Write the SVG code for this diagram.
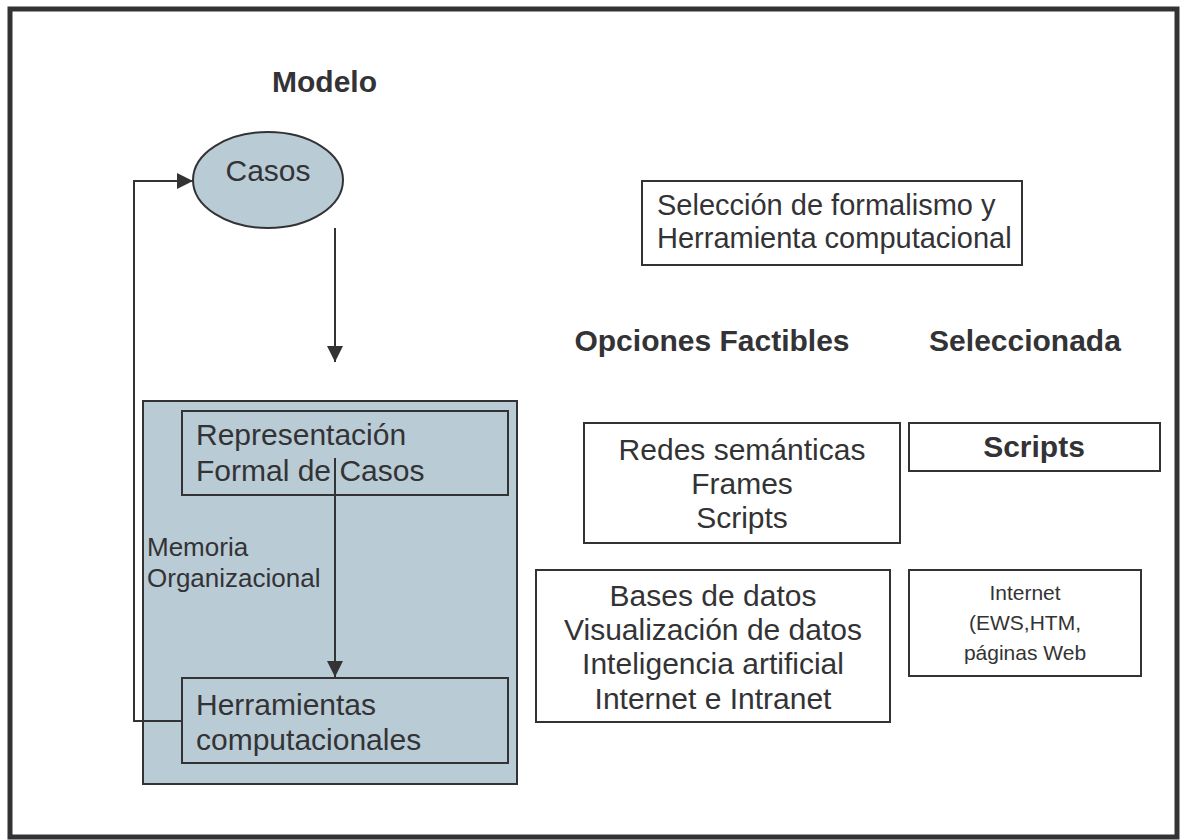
<svg xmlns="http://www.w3.org/2000/svg" width="1180" height="840" viewBox="0 0 1180 840">
<defs>
<style>
.frame{fill:#ffffff;stroke:#333336;stroke-width:5}
.box{fill:#ffffff;stroke:#333336;stroke-width:2}
.sbox{fill:#b9cbd5;stroke:#333336;stroke-width:2}
.t{font-family:"Liberation Sans",Arial,Helvetica,sans-serif;fill:#333336}
.b{font-weight:bold}
.c{text-anchor:middle}
.ln{fill:none;stroke:#333336;stroke-width:2}
</style>
<marker id="ah" markerWidth="16" markerHeight="16" refX="16" refY="8" orient="auto" markerUnits="userSpaceOnUse">
<path d="M0,0 L16,8 L0,16 Z" fill="#333336"/>
</marker>
</defs>
<rect class="frame" x="10" y="9" width="1167" height="828"/>
<g id="title-modelo"><text class="t b" x="272" y="92" font-size="30">Modelo</text></g>
<g id="casos">
<ellipse class="sbox" cx="268" cy="180" rx="75" ry="48"/>
<text class="t c" x="268" y="181" font-size="30">Casos</text>
</g>
<g id="memoria">
<rect class="sbox" x="143" y="401" width="374" height="383"/>
<text class="t" x="147" y="556" font-size="26">Memoria</text>
<text class="t" x="147" y="587" font-size="26">Organizacional</text>
</g>
<g id="representacion">
<rect class="sbox" x="182" y="411" width="326" height="84"/>
<text class="t" x="196" y="445" font-size="30">Representación</text>
<text class="t" x="196" y="481" font-size="30">Formal de Casos</text>
</g>
<g id="herramientas">
<rect class="sbox" x="182" y="678" width="326" height="85"/>
<text class="t" x="196" y="715" font-size="30">Herramientas</text>
<text class="t" x="196" y="750" font-size="30">computacionales</text>
</g>
<g id="seleccion-formalismo">
<rect class="box" x="642" y="181" width="380" height="84"/>
<text class="t" x="657" y="215" font-size="29">Selección de formalismo y</text>
<text class="t" x="657" y="248" font-size="29">Herramienta computacional</text>
</g>
<g id="hdr-opciones"><text class="t b c" x="712" y="351" font-size="30">Opciones Factibles</text></g>
<g id="hdr-seleccionada"><text class="t b c" x="1025" y="351" font-size="30">Seleccionada</text></g>
<g id="opt-representacion">
<rect class="box" x="584" y="423" width="316" height="120"/>
<text class="t c" x="742" y="460" font-size="30">Redes semánticas</text>
<text class="t c" x="742" y="494" font-size="30">Frames</text>
<text class="t c" x="742" y="528" font-size="30">Scripts</text>
</g>
<g id="sel-representacion">
<rect class="box" x="909" y="423" width="251" height="48"/>
<text class="t b c" x="1034" y="457" font-size="30">Scripts</text>
</g>
<g id="opt-herramientas">
<rect class="box" x="536" y="570" width="354" height="152"/>
<text class="t c" x="713" y="606" font-size="30">Bases de datos</text>
<text class="t c" x="713" y="640" font-size="30">Visualización de datos</text>
<text class="t c" x="713" y="674" font-size="30">Inteligencia artificial</text>
<text class="t c" x="713" y="709" font-size="30">Internet e Intranet</text>
</g>
<g id="sel-herramientas">
<rect class="box" x="909" y="570" width="232" height="106"/>
<text class="t c" x="1025" y="600" font-size="21">Internet</text>
<text class="t c" x="1025" y="630" font-size="21">(EWS,HTM,</text>
<text class="t c" x="1025" y="660" font-size="21">páginas Web</text>
</g>
<g id="connectors">
<line class="ln" x1="335" y1="228" x2="335" y2="362" marker-end="url(#ah)"/>
<line class="ln" x1="335" y1="458" x2="335" y2="677" marker-end="url(#ah)"/>
<polyline class="ln" points="182,721 134,721 134,181 193,181" marker-end="url(#ah)"/>
</g>
</svg>
